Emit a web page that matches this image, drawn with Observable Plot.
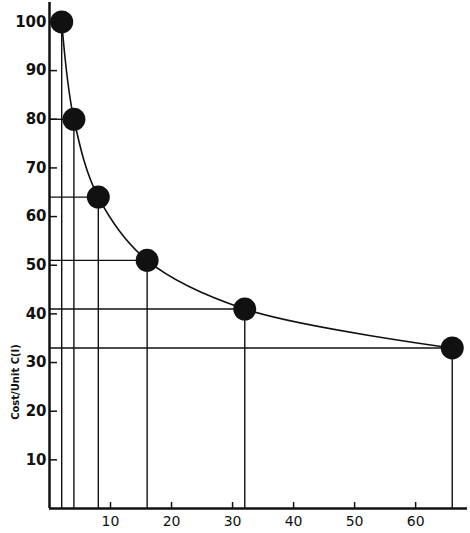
<!DOCTYPE html>
<html>
<head>
<meta charset="utf-8">
<script src="https://cdn.jsdelivr.net/npm/d3@7"></script>
<script src="https://cdn.jsdelivr.net/npm/@observablehq/plot@0.6"></script>
<style>
  html, body { margin: 0; padding: 0; background: #fff; }
  #chart { width: 470px; height: 533px; }
</style>
</head>
<body>
<div id="chart"></div>
<script>
// Data
const units = [2, 4, 8, 16, 32, 66];
const costs = [100, 80, 64, 51, 41, 33];
const xTicks = [10, 20, 30, 40, 50, 60];
const yTicks = [10, 20, 30, 40, 50, 60, 70, 80, 90, 100];
const yLabel = "Cost/Unit C(I)";
const yLabelAt = [26];

const data = units.map((n, i) => ({n, c: costs[i]}));
const ink = "#111";

const chart = Plot.plot({
  width: 470,
  height: 533,
  marginLeft: 49,
  marginRight: 3,
  marginTop: 2,
  marginBottom: 25,
  style: {fontFamily: "DejaVu Sans, sans-serif", background: "#fff", color: ink},
  x: {domain: [0, 68.5]},
  y: {domain: [0, 104]},
  marks: [
    Plot.ruleY(data, {y: "c", x1: 0, x2: "n", stroke: ink, strokeWidth: 1.4}),
    Plot.ruleX(data, {x: "n", y1: 0, y2: "c", stroke: ink, strokeWidth: 1.4}),
    Plot.line(data, {x: "n", y: "c", curve: "catmull-rom", stroke: ink, strokeWidth: 1.6}),
    Plot.dot(data, {x: "n", y: "c", r: 11.5, fill: ink, stroke: "none"}),
    Plot.axisX({ticks: xTicks, tickSize: -6, tickPadding: 14, label: null, fontSize: 14, stroke: ink, strokeWidth: 1.5}),
    Plot.axisY({ticks: yTicks, tickSize: -8, tickPadding: 11, label: null, fontSize: 15, fontWeight: "bold", stroke: ink, strokeWidth: 1.5}),
    Plot.ruleX([0], {stroke: ink, strokeWidth: 2.5}),
    Plot.ruleY([0], {stroke: ink, strokeWidth: 2.5}),
    Plot.text(yLabelAt, {y: d => d, frameAnchor: "left", textAnchor: "middle", dx: -34, rotate: -90, text: () => yLabel, fontSize: 10, fontWeight: "bold", fill: ink})
  ]
});
document.getElementById("chart").appendChild(chart);
</script>
</body>
</html>
